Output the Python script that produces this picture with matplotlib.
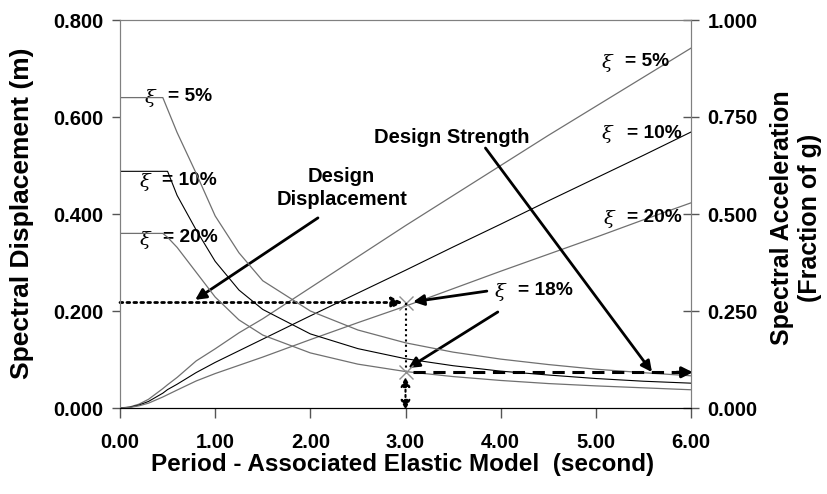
import matplotlib
matplotlib.use("Agg")
import matplotlib.pyplot as plt

plt.rcParams['font.family'] = ['Liberation Sans', 'DejaVu Sans']

# ---- data ----
period = [0, 0.1, 0.2, 0.3, 0.45, 0.5, 0.6, 0.8, 1.0, 1.25, 1.5, 2.0, 2.5,
          3.0, 3.5, 4.0, 4.5, 5.0, 5.5, 6.0]
# spectral displacement (m), left axis
sd_5 = [0, 0.002, 0.008, 0.018, 0.040, 0.048, 0.063, 0.097, 0.122, 0.155,
        0.184, 0.248, 0.312, 0.376, 0.438, 0.500, 0.562, 0.622, 0.682, 0.742]
sd_10 = [0, 0.0015, 0.006, 0.0136, 0.0306, 0.038, 0.049, 0.073, 0.094, 0.118,
         0.142, 0.190, 0.237, 0.284, 0.332, 0.379, 0.427, 0.474, 0.521, 0.569]
sd_20 = [0, 0.0011, 0.0045, 0.010, 0.0227, 0.0275, 0.037, 0.0557, 0.071, 0.088,
         0.105, 0.141, 0.176, 0.210, 0.246, 0.282, 0.317, 0.352, 0.388, 0.423]
# spectral acceleration (fraction of g), right axis
sa_5 = [0.80, 0.80, 0.80, 0.80, 0.80, 0.77, 0.71, 0.605, 0.495, 0.40, 0.328,
        0.250, 0.201, 0.168, 0.144, 0.126, 0.112, 0.100, 0.091, 0.083]
sa_10 = [0.61, 0.61, 0.61, 0.61, 0.61, 0.61, 0.548, 0.459, 0.378, 0.304, 0.254,
         0.191, 0.153, 0.127, 0.109, 0.095, 0.085, 0.076, 0.069, 0.064]
sa_20 = [0.45, 0.45, 0.45, 0.45, 0.45, 0.44, 0.414, 0.350, 0.286, 0.227, 0.188,
         0.142, 0.113, 0.094, 0.081, 0.071, 0.063, 0.057, 0.052, 0.047]

design_period = 3.0
design_disp = 0.2175      # m
design_strength = 0.092   # fraction of g
x_ticks = [0, 1, 2, 3, 4, 5, 6]
left_ticks = [0.0, 0.2, 0.4, 0.6, 0.8]
right_ticks = [0.0, 0.25, 0.5, 0.75, 1.0]

# ---- figure ----
fig = plt.figure(figsize=(8.27, 4.94), dpi=100)
ax = fig.add_axes([120/827, 1-408/494, (691-120)/827, (408-20)/494])
ax2 = ax.twinx()

ax.set_xlim(0, 6)
ax.set_ylim(0, 0.8)
ax2.set_ylim(0, 1.0)

grey = '#707070'
ax.plot(period, sd_5, color=grey, lw=0.9)
ax.plot(period, sd_10, color='black', lw=0.8)
ax.plot(period, sd_20, color=grey, lw=0.9)
ax2.plot(period, sa_5, color=grey, lw=0.9)
ax2.plot(period, sa_10, color='black', lw=0.8)
ax2.plot(period, sa_20, color=grey, lw=0.9)

# spines / ticks
for a in (ax, ax2):
    for s in ('left', 'right', 'top'):
        a.spines[s].set_color('#808080')
    a.spines['bottom'].set_color('black')
ax.set_xticks(x_ticks)
ax.set_xticklabels([f"{v:.2f}" for v in x_ticks])
ax.set_yticks(left_ticks)
ax.set_yticklabels([f"{v:.3f}" for v in left_ticks])
ax2.set_yticks(right_ticks)
ax2.set_yticklabels([f"{v:.3f}" for v in right_ticks])
ax.tick_params(axis='x', direction='out', length=7, width=1, color='#555555',
               labelsize=14.5, pad=11)
ax.tick_params(axis='y', direction='out', length=6, width=1, color='#555555',
               labelsize=14.5, pad=6)
ax2.tick_params(axis='y', direction='inout', length=12, width=1, color='#555555',
                labelsize=14.5, pad=6)
for lab in ax.get_xticklabels() + ax.get_yticklabels() + ax2.get_yticklabels():
    lab.set_fontweight('bold')

# axis labels
fig.text(403/827, 1-465/494, 'Period - Associated Elastic Model  (second)',
         ha='center', va='center', fontsize=17.5, fontweight='bold')
fig.text(22/827, 1-213/494, 'Spectral Displacement (m)', rotation=90,
         ha='center', va='center', fontsize=19, fontweight='bold')
fig.text(782/827, 1-218/494, 'Spectral Acceleration', rotation=90,
         ha='center', va='center', fontsize=18, fontweight='bold')
fig.text(810/827, 1-218/494, '(Fraction of g)', rotation=90,
         ha='center', va='center', fontsize=18, fontweight='bold')

# damping labels
def xi_label(xs, ys, xt, yt, txt):
    ax.text(xs, ys, 'ξ', fontsize=14, style='italic', family='DejaVu Serif',
            ha='center', va='center')
    ax.text(xt, yt, txt, fontsize=13.8, fontweight='bold', ha='left', va='center')

xi_label(0.315, 0.639, 0.504, 0.643, '= 5%')
xi_label(0.263, 0.466, 0.441, 0.470, '= 10%')
xi_label(0.263, 0.346, 0.452, 0.351, '= 20%')
xi_label(5.117, 0.711, 5.306, 0.715, '= 5%')
xi_label(5.117, 0.565, 5.327, 0.567, '= 10%')
xi_label(5.138, 0.390, 5.327, 0.392, '= 20%')
xi_label(3.993, 0.239, 4.182, 0.243, '= 18%')

ax.text(3.49, 0.557, 'Design Strength', fontsize=14.5, fontweight='bold',
        ha='center', va='center')
ax.text(2.33, 0.454, 'Design\nDisplacement', fontsize=14.5, fontweight='bold',
        ha='center', va='center', linespacing=1.3)

head = dict(arrowstyle='-|>', color='black', lw=2, mutation_scale=16,
            shrinkA=0, shrinkB=0)
# pointer arrows
ax.annotate('', xy=(0.79, 0.223), xytext=(2.08, 0.392), arrowprops=head)
ax.annotate('', xy=(5.59, 0.074), xytext=(3.84, 0.536), arrowprops=head)
ax.annotate('', xy=(3.08, 0.219), xytext=(3.855, 0.241), arrowprops=head)
ax.annotate('', xy=(3.03, 0.0825), xytext=(3.97, 0.198), arrowprops=head)

# design displacement dotted line with head at the marker
ax.annotate('', xy=(design_period - 0.03, design_disp), xytext=(0, design_disp),
            arrowprops=dict(arrowstyle='-|>', color='black', lw=2, ls=(0, (1, 1.5)),
                            mutation_scale=16, shrinkA=0, shrinkB=0))
# vertical dotted from displacement to strength
ax2.plot([design_period, design_period], [design_disp / 0.8, design_strength],
         color='black', lw=1.5, ls=(0, (1, 1.5)))
# double arrow to the axis
ax2.annotate('', xy=(design_period, -0.005), xytext=(design_period, design_strength - 0.012),
             arrowprops=dict(arrowstyle='<|-|>', color='black', lw=1.5, ls=(0, (1, 1.5)),
                             mutation_scale=14, shrinkA=0, shrinkB=0),
             annotation_clip=False)
# dashed design strength arrow to right axis
ax2.plot([design_period + 0.08, 5.92], [design_strength, design_strength],
         color='black', lw=2.2, ls=(0, (4, 2.5)))
ax2.annotate('', xy=(6.02, design_strength), xytext=(5.85, design_strength),
             arrowprops=dict(arrowstyle='-|>', color='black', lw=2.2,
                             mutation_scale=16, shrinkA=0, shrinkB=0),
             annotation_clip=False)

# design point markers
ax.plot([design_period], [design_disp], marker='x', ms=10, mew=1, color='#909090')
ax2.plot([design_period], [design_strength], marker='x', ms=10, mew=1, color='#909090')

fig.savefig('out.png', dpi=100)
